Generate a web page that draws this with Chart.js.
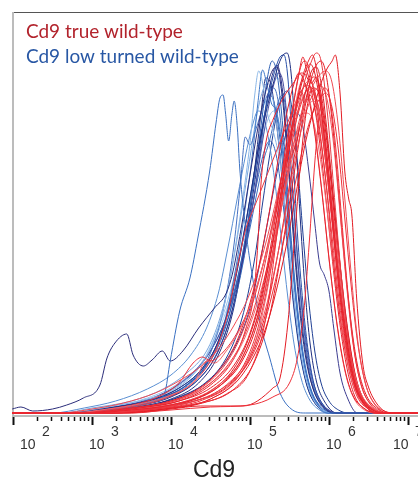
<!DOCTYPE html>
<html>
<head>
<meta charset="utf-8">
<script src="https://cdn.jsdelivr.net/npm/chart.js@4.4.1/dist/chart.umd.min.js"></script>
<style>
  html, body { margin: 0; padding: 0; background: #fff; }
  canvas { display: block; }
</style>
</head>
<body>
<canvas id="chart" width="418" height="482"></canvas>
<script>
// x values are log10(Cd9 intensity), y values are event counts (mode normalised)
const legendLabels = ["Cd9 true wild-type", "Cd9 low turned wild-type"];
const axisTitle = "Cd9";
const tickExponents = [2, 3, 4, 5, 6, 7];
// every histogram sits at zero count at both ends of the axis
const zeroEnds = [1.99, 7.13];

const redCurves = [
  [[2.9,0],[3.5,3],[4.0,8],[4.4,17],[4.7,33],[4.9,55],[5.1,98],[5.3,175],[5.45,250],[5.56,298],[5.66,335],[5.74,352],[5.79,358],[5.86,335],[5.96,270],[6.06,185],[6.16,108],[6.26,52],[6.36,22],[6.5,6],[6.7,0]],
  [[3.2,0],[3.8,4],[4.3,9],[4.7,19],[5.0,42],[5.2,95],[5.35,185],[5.48,270],[5.58,322],[5.65,348],[5.7,352],[5.77,336],[5.86,296],[5.96,232],[6.06,150],[6.16,84],[6.26,40],[6.36,16],[6.5,4],[6.7,0]],
  [[3.3,0],[4.0,5],[4.5,14],[4.9,38],[5.2,85],[5.4,145],[5.55,205],[5.68,262],[5.8,302],[5.9,330],[5.98,345],[6.04,352],[6.08,358],[6.14,320],[6.2,242],[6.25,214],[6.29,198],[6.35,115],[6.43,48],[6.5,26],[6.56,15],[6.68,3],[6.82,0]],
  [[3.0,0],[3.7,5],[4.2,12],[4.6,28],[4.9,55],[5.15,110],[5.35,185],[5.5,248],[5.65,300],[5.78,325],[5.88,338],[5.96,342],[6.04,330],[6.12,285],[6.2,215],[6.28,140],[6.36,75],[6.45,33],[6.55,12],[6.7,2],[6.85,0]],
  [[3.1,0],[3.7,4],[4.2,10],[4.6,22],[4.9,45],[5.1,85],[5.3,160],[5.45,230],[5.58,290],[5.68,328],[5.76,348],[5.84,360],[5.9,352],[5.98,300],[6.06,225],[6.14,150],[6.22,88],[6.3,45],[6.4,18],[6.55,4],[6.72,0]],
  [[3.0,0],[3.6,5],[4.1,12],[4.5,25],[4.8,48],[5.0,80],[5.2,140],[5.35,210],[5.46,270],[5.55,310],[5.62,340],[5.67,356],[5.72,342],[5.78,330],[5.84,336],[5.92,290],[6.02,210],[6.12,128],[6.22,66],[6.32,28],[6.45,8],[6.62,0]],
  [[2.7,0],[3.2,4],[3.6,9],[4.0,18],[4.3,32],[4.45,52],[4.55,50],[4.7,62],[4.9,88],[5.1,130],[5.3,190],[5.45,240],[5.6,282],[5.72,305],[5.8,312],[5.88,300],[5.98,250],[6.08,178],[6.18,108],[6.28,55],[6.38,24],[6.52,7],[6.7,0]],
  [[3.4,0],[4.0,3],[4.5,6],[5.0,8],[5.29,16],[5.5,30],[5.6,55],[5.68,100],[5.75,170],[5.82,250],[5.88,300],[5.94,325],[6.0,318],[6.08,270],[6.16,195],[6.24,120],[6.32,62],[6.42,25],[6.55,7],[6.75,0]],
  [[3.5,0],[4.0,4],[4.37,7],[4.91,7],[5.29,25],[5.38,35],[5.48,90],[5.56,170],[5.64,250],[5.72,305],[5.8,325],[5.88,318],[5.96,280],[6.05,210],[6.14,135],[6.23,72],[6.32,32],[6.42,12],[6.56,3],[6.72,0]],
  [[3.0,0],[3.5,4],[4.0,11],[4.4,24],[4.7,46],[4.9,72],[5.1,118],[5.28,185],[5.42,245],[5.55,292],[5.66,322],[5.74,332],[5.82,322],[5.92,276],[6.02,205],[6.12,130],[6.22,70],[6.32,32],[6.44,10],[6.6,0]],
  [[3.1,0],[3.8,5],[4.3,12],[4.7,28],[5.0,58],[5.2,105],[5.38,170],[5.52,232],[5.64,280],[5.74,308],[5.82,322],[5.9,327],[5.98,312],[6.06,268],[6.14,200],[6.22,130],[6.3,72],[6.4,30],[6.52,9],[6.7,0]],
  [[2.9,0],[3.4,4],[3.9,10],[4.3,22],[4.6,42],[4.85,75],[5.05,125],[5.22,190],[5.36,255],[5.48,305],[5.56,330],[5.62,340],[5.7,328],[5.8,290],[5.9,228],[6.0,155],[6.1,90],[6.2,44],[6.3,18],[6.44,5],[6.6,0]],
  [[3.0,0],[3.6,4],[4.1,10],[4.5,22],[4.8,45],[5.0,78],[5.2,135],[5.35,200],[5.45,240],[5.52,255],[5.6,275],[5.7,320],[5.78,342],[5.84,346],[5.92,320],[6.0,262],[6.1,180],[6.2,105],[6.3,50],[6.4,20],[6.55,5],[6.72,0]],
  [[3.0,0],[3.6,5],[4.1,14],[4.5,30],[4.8,55],[5.0,88],[5.2,140],[5.38,200],[5.52,250],[5.62,285],[5.7,300],[5.78,296],[5.88,260],[5.98,200],[6.08,135],[6.18,78],[6.28,38],[6.38,15],[6.52,4],[6.7,0]],
  [[3.2,0],[3.9,5],[4.4,13],[4.8,32],[5.1,70],[5.3,125],[5.46,185],[5.6,240],[5.72,282],[5.82,305],[5.9,316],[5.96,320],[6.04,305],[6.12,262],[6.2,195],[6.28,128],[6.36,72],[6.46,30],[6.58,9],[6.75,0]],
  [[3.1,0],[3.7,4],[4.2,11],[4.6,26],[4.9,52],[5.1,92],[5.28,158],[5.42,225],[5.54,285],[5.64,325],[5.71,343],[5.76,349],[5.82,340],[5.9,302],[6.0,236],[6.1,160],[6.2,92],[6.3,44],[6.4,18],[6.55,4],[6.72,0]],
  [[2.9,0],[3.5,5],[4.0,12],[4.4,26],[4.7,50],[4.9,80],[5.1,128],[5.3,196],[5.44,252],[5.54,290],[5.6,312],[5.65,322],[5.7,310],[5.76,318],[5.82,305],[5.92,258],[6.02,190],[6.12,118],[6.22,62],[6.32,28],[6.45,8],[6.62,0]],
  [[2.6,0],[3.0,4],[3.4,10],[3.8,20],[4.1,32],[4.4,48],[4.6,64],[4.8,88],[5.0,120],[5.2,170],[5.38,230],[5.52,278],[5.64,310],[5.74,324],[5.82,318],[5.92,282],[6.02,218],[6.12,146],[6.22,82],[6.32,38],[6.44,12],[6.6,0]],
  [[3.1,0],[3.8,5],[4.3,12],[4.7,26],[5.0,55],[5.2,100],[5.36,162],[5.5,228],[5.62,282],[5.72,318],[5.8,336],[5.87,330],[5.95,292],[6.04,225],[6.14,148],[6.24,82],[6.34,36],[6.45,12],[6.6,2],[6.76,0]],
  [[3.2,0],[3.9,4],[4.4,10],[4.8,24],[5.05,50],[5.25,98],[5.4,162],[5.54,230],[5.66,290],[5.76,330],[5.84,348],[5.9,352],[5.96,340],[6.04,292],[6.12,222],[6.2,150],[6.28,90],[6.36,48],[6.46,20],[6.6,5],[6.78,0]],
  [[2.8,0],[3.3,5],[3.8,15],[4.1,30],[4.28,50],[4.4,56],[4.5,52],[4.65,60],[4.85,82],[5.05,118],[5.25,175],[5.4,230],[5.55,282],[5.66,312],[5.75,326],[5.83,318],[5.93,278],[6.03,212],[6.13,140],[6.23,78],[6.33,36],[6.45,12],[6.62,0]],
  [[3.3,0],[4.0,5],[4.5,14],[4.85,36],[5.1,80],[5.28,150],[5.42,225],[5.52,280],[5.6,318],[5.66,332],[5.73,322],[5.82,282],[5.92,215],[6.02,140],[6.12,78],[6.22,36],[6.32,14],[6.45,3],[6.6,0]],
  [[2.8,0],[3.4,5],[3.9,14],[4.3,32],[4.55,60],[4.72,100],[4.85,150],[4.95,185],[5.05,205],[5.2,235],[5.35,265],[5.5,295],[5.62,318],[5.72,328],[5.8,320],[5.9,285],[6.0,222],[6.1,150],[6.2,85],[6.3,40],[6.42,13],[6.58,0]],
  [[3.0,0],[3.6,5],[4.1,12],[4.5,28],[4.8,55],[4.95,85],[5.05,120],[5.1,170],[5.14,230],[5.2,270],[5.3,295],[5.42,315],[5.55,330],[5.65,340],[5.72,336],[5.82,305],[5.92,245],[6.02,170],[6.12,100],[6.22,48],[6.32,18],[6.45,4],[6.6,0]]
];

const redColors = ["#e8212b","#ed2f38","#e31b23","#f04b53","#ea3a42","#e8212b","#f2646b","#ed2f38","#e31b23",
  "#ea3a42","#f04b53","#e8212b","#d91f28","#f2646b","#ed2f38","#e31b23","#ea3a42","#f04b53","#e8212b",
  "#e31b23","#ed2f38","#f2646b","#ea3a42","#e8212b"];

const blueCurves = [
  [[3.2,0],[3.5,3],[3.73,7],[3.92,20],[3.99,52],[4.11,102],[4.24,135],[4.34,175],[4.49,242],[4.57,290],[4.62,315],[4.66,318],[4.69,300],[4.73,272],[4.77,298],[4.8,312],[4.84,285],[4.87,245],[4.96,175],[5.04,132],[5.13,90],[5.25,55],[5.38,20],[5.54,3],[5.7,0]],
  [[1.99,4],[2.1,6],[2.25,2],[2.5,4],[2.68,8],[2.89,15],[3.1,28],[3.19,55],[3.29,70],[3.44,79],[3.52,58],[3.65,47],[3.76,53],[3.89,62],[3.99,52],[4.15,62],[4.35,85],[4.55,105],[4.7,120],[4.78,140],[4.9,190],[5.0,238],[5.1,285],[5.2,322],[5.28,342],[5.34,346],[5.4,322],[5.47,262],[5.54,185],[5.62,110],[5.7,58],[5.8,24],[5.9,9],[6.05,0]],
  [[2.7,0],[3.2,5],[3.7,12],[4.1,25],[4.4,45],[4.6,72],[4.75,110],[4.88,160],[5.0,215],[5.1,262],[5.2,300],[5.28,325],[5.36,348],[5.42,358],[5.47,360],[5.52,340],[5.58,270],[5.64,190],[5.7,120],[5.76,70],[5.84,32],[5.94,12],[6.1,0]],
  [[2.8,0],[3.3,6],[3.8,14],[4.2,28],[4.5,55],[4.7,95],[4.85,150],[4.98,205],[5.1,262],[5.2,305],[5.3,338],[5.38,356],[5.43,358],[5.48,335],[5.54,262],[5.6,180],[5.67,110],[5.74,60],[5.82,26],[5.92,9],[6.06,0]],
  [[2.7,0],[3.1,5],[3.6,12],[4.0,22],[4.3,40],[4.5,65],[4.65,100],[4.78,150],[4.9,210],[5.0,270],[5.06,318],[5.11,342],[5.16,330],[5.22,300],[5.3,280],[5.38,250],[5.46,195],[5.54,130],[5.62,75],[5.7,38],[5.8,14],[5.92,3],[6.05,0]],
  [[2.9,0],[3.4,5],[3.9,14],[4.25,30],[4.5,55],[4.68,92],[4.82,145],[4.94,205],[5.04,265],[5.1,310],[5.16,343],[5.21,330],[5.27,310],[5.34,300],[5.42,255],[5.5,185],[5.58,118],[5.66,64],[5.75,28],[5.86,9],[6.0,0]],
  [[2.8,0],[3.3,5],[3.8,13],[4.2,28],[4.5,52],[4.7,88],[4.86,140],[4.98,195],[5.08,250],[5.16,300],[5.22,335],[5.28,352],[5.34,340],[5.4,300],[5.47,230],[5.54,155],[5.62,90],[5.7,45],[5.8,18],[5.92,5],[6.05,0]],
  [[3.0,0],[3.5,6],[4.0,16],[4.35,34],[4.6,62],[4.78,105],[4.92,160],[5.04,220],[5.14,275],[5.22,315],[5.29,340],[5.34,348],[5.4,330],[5.46,280],[5.53,205],[5.6,135],[5.68,75],[5.76,36],[5.86,13],[5.98,3],[6.1,0]],
  [[2.9,0],[3.4,6],[3.9,15],[4.25,32],[4.5,60],[4.68,110],[4.8,170],[4.88,230],[4.94,276],[5.0,268],[5.06,280],[5.14,300],[5.22,318],[5.3,325],[5.36,310],[5.43,255],[5.5,185],[5.58,115],[5.66,62],[5.75,27],[5.86,8],[6.0,0]],
  [[2.6,0],[3.0,5],[3.5,12],[3.9,24],[4.2,40],[4.45,62],[4.62,95],[4.76,140],[4.88,195],[4.98,245],[5.08,295],[5.16,322],[5.22,330],[5.28,318],[5.35,280],[5.43,218],[5.51,148],[5.6,85],[5.68,44],[5.78,18],[5.9,5],[6.05,0]],
  [[2.8,0],[3.3,6],[3.8,16],[4.2,35],[4.5,62],[4.72,100],[4.9,150],[5.04,210],[5.14,262],[5.22,300],[5.3,328],[5.36,340],[5.42,330],[5.48,285],[5.55,210],[5.62,138],[5.7,78],[5.78,38],[5.88,14],[6.0,3],[6.12,0]],
  [[2.9,0],[3.4,5],[3.9,14],[4.3,30],[4.55,55],[4.75,95],[4.9,145],[5.02,200],[5.12,255],[5.18,292],[5.24,318],[5.3,312],[5.37,280],[5.45,220],[5.53,152],[5.61,92],[5.69,48],[5.78,20],[5.9,5],[6.04,0]],
  [[2.7,0],[3.2,6],[3.7,15],[4.1,30],[4.4,52],[4.6,85],[4.78,130],[4.92,180],[5.04,228],[5.14,268],[5.22,292],[5.3,302],[5.37,290],[5.44,245],[5.52,175],[5.6,108],[5.68,58],[5.77,24],[5.88,6],[6.02,0]],
  [[3.0,0],[3.5,5],[4.0,14],[4.35,30],[4.6,58],[4.78,100],[4.9,150],[5.0,205],[5.08,258],[5.14,300],[5.2,335],[5.26,330],[5.32,300],[5.4,240],[5.48,170],[5.56,105],[5.64,58],[5.72,28],[5.82,10],[5.95,2],[6.08,0]],
  [[2.8,0],[3.3,5],[3.8,14],[4.2,30],[4.5,55],[4.7,90],[4.86,135],[5.0,185],[5.1,225],[5.18,255],[5.24,270],[5.3,290],[5.36,312],[5.41,318],[5.46,300],[5.52,245],[5.58,178],[5.65,110],[5.72,60],[5.8,28],[5.9,10],[6.04,0]],
  [[2.5,0],[2.9,5],[3.3,12],[3.7,24],[4.0,38],[4.25,58],[4.45,85],[4.6,120],[4.72,165],[4.84,215],[4.95,260],[5.04,290],[5.1,302],[5.16,298],[5.24,272],[5.32,228],[5.4,172],[5.48,115],[5.56,68],[5.65,34],[5.75,14],[5.88,3],[6.0,0]],
  [[3.0,0],[3.5,5],[4.0,13],[4.4,28],[4.7,55],[4.9,95],[5.05,150],[5.16,210],[5.25,258],[5.33,295],[5.4,315],[5.47,322],[5.53,305],[5.6,250],[5.67,180],[5.74,115],[5.82,62],[5.9,30],[6.0,12],[6.12,3],[6.25,0]],
  [[3.0,0],[3.6,6],[4.1,16],[4.5,34],[4.8,65],[5.0,105],[5.15,160],[5.28,215],[5.4,262],[5.5,290],[5.58,300],[5.66,290],[5.74,245],[5.82,190],[5.88,150],[5.94,138],[6.0,122],[6.06,85],[6.14,40],[6.24,14],[6.36,0]],
  [[2.7,0],[3.2,6],[3.7,14],[4.1,28],[4.4,50],[4.62,85],[4.8,130],[4.94,185],[5.06,240],[5.16,285],[5.24,315],[5.3,330],[5.35,335],[5.41,318],[5.48,262],[5.55,190],[5.63,118],[5.71,62],[5.8,26],[5.92,7],[6.06,0]],
  [[2.8,0],[3.3,6],[3.8,16],[4.2,34],[4.5,62],[4.72,100],[4.88,148],[5.0,195],[5.1,235],[5.18,262],[5.25,272],[5.32,262],[5.4,222],[5.48,162],[5.56,102],[5.64,56],[5.73,25],[5.84,8],[5.98,0]]
];

const blueColors = ["#3a70c2","#2b2d7a","#1f2f80","#2850a8","#8ab6e6","#3f78c8","#2f62b5","#2e3488","#4570c0","#79a7de",
  "#4a4ea3","#2d63b8","#9cc2ec","#262f7e","#3a6cc0","#5a8fd2","#1f3f94","#3c3c90","#a9cbef","#3366bb"];

function toDataset(curve, color) {
  const pts = curve.map(p => ({x: p[0], y: p[1]}));
  if (pts[0].x > zeroEnds[0]) pts.unshift({x: zeroEnds[0], y: 0});
  pts.push({x: zeroEnds[1], y: 0});
  return {
    data: pts,
    borderColor: color,
    borderWidth: 1,
    pointRadius: 0,
    fill: false,
    cubicInterpolationMode: 'monotone'
  };
}

// red first so they are painted on top of the blue ones
const datasets = [];
redCurves.forEach((c, i) => datasets.push(toDataset(c, redColors[i % redColors.length])));
blueCurves.forEach((c, i) => datasets.push(toDataset(c, blueColors[i % blueColors.length])));

const cytoAxes = {
  id: 'cytoAxes',
  beforeDatasetsDraw(chart) {
    const {ctx, chartArea: a} = chart;
    ctx.save();
    // frame
    ctx.strokeStyle = '#555';
    ctx.lineWidth = 1;
    ctx.beginPath(); ctx.moveTo(a.left, a.top + 0.5); ctx.lineTo(a.right, a.top + 0.5); ctx.stroke();
    ctx.strokeStyle = '#bcbcbc';
    ctx.lineWidth = 2;
    ctx.beginPath(); ctx.moveTo(a.left + 1, a.top); ctx.lineTo(a.left + 1, a.bottom + 1); ctx.stroke();
    ctx.beginPath(); ctx.moveTo(a.left, a.bottom + 1); ctx.lineTo(a.right, a.bottom + 1); ctx.stroke();
    ctx.restore();
  },
  afterDraw(chart) {
    const {ctx, chartArea: a} = chart;
    const xs = chart.scales.x;
    ctx.save();
    // ticks
    ctx.strokeStyle = '#111';
    tickExponents.forEach(n => {
      const px = Math.round(xs.getPixelForValue(n)) + 0.5;
      ctx.lineWidth = 2;
      ctx.beginPath(); ctx.moveTo(px, a.bottom + 2); ctx.lineTo(px, a.bottom + 10); ctx.stroke();
      for (let k = 2; k <= 9; k++) {
        const v = n + Math.log10(k);
        if (v > xs.max) break;
        const mx = Math.round(xs.getPixelForValue(v)) + 0.5;
        ctx.lineWidth = 1.5;
        ctx.beginPath(); ctx.moveTo(mx, a.bottom + 2); ctx.lineTo(mx, a.bottom + 6); ctx.stroke();
      }
    });
    // tick labels: 10 with raised exponent
    ctx.fillStyle = '#333';
    ctx.font = '14px "Liberation Sans", Arial, sans-serif';
    ctx.textAlign = 'left';
    ctx.textBaseline = 'alphabetic';
    tickExponents.forEach((n, i) => {
      const px = xs.getPixelForValue(n);
      let lx = px - 3;
      if (i === 0) lx = px + 7;
      if (i === tickExponents.length - 1) lx = px - 15;
      ctx.fillText('10', lx, 449);
      ctx.fillText(String(n), lx + 22, 436);
    });
    // axis title
    ctx.fillStyle = '#222';
    ctx.font = '23px "Liberation Sans", Arial, sans-serif';
    ctx.textAlign = 'center';
    ctx.fillText(axisTitle, 214, 477);
    // legend
    ctx.textAlign = 'left';
    const legendColors = ['#b2232c', '#2857a4'];
    const legendWidths = [157, 213];
    const legendY = [38, 63];
    legendLabels.forEach((t, i) => {
      ctx.font = '16px Lato, "Open Sans", sans-serif';
      const w = ctx.measureText(t).width;
      const size = (16 * legendWidths[i] / w).toFixed(2);
      ctx.font = size + 'px Lato, "Open Sans", sans-serif';
      ctx.fillStyle = legendColors[i];
      ctx.fillText(t, 26, legendY[i]);
    });
    ctx.restore();
  }
};

const ctx = document.getElementById('chart');
new Chart(ctx, {
  type: 'line',
  data: { datasets: datasets },
  options: {
    responsive: false,
    devicePixelRatio: 1,
    animation: false,
    layout: { padding: { left: 12, top: 12, right: 0, bottom: 67 } },
    scales: {
      x: { type: 'linear', min: 1.987, max: 7.127, display: false },
      y: { min: -2, max: 401, display: false }
    },
    plugins: {
      legend: { display: false },
      tooltip: { enabled: false }
    }
  },
  plugins: [cytoAxes]
});
</script>
</body>
</html>
